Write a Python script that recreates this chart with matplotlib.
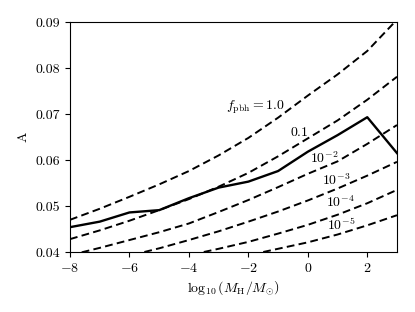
import matplotlib
matplotlib.use("Agg")
import matplotlib.pyplot as plt

plt.rcParams['font.family'] = 'serif'
plt.rcParams['font.serif'] = ['cmr10']
plt.rcParams['mathtext.fontset'] = 'cm'
plt.rcParams['axes.formatter.use_mathtext'] = True
plt.rcParams['font.size'] = 10

# log10(M_H / M_sun)
masa = [-8, -7, -6, -5, -4, -3, -2, -1, 0, 1, 2, 3]

# curva solida
A_solida = [0.0454, 0.0466, 0.0486, 0.0491, 0.0517, 0.0540,
            0.0553, 0.0576, 0.0618, 0.0654, 0.0693, 0.0615]

# curvas discontinuas para cada f_pbh
A_f1 = [0.0470, 0.0494, 0.0520, 0.0547, 0.0576, 0.0610,
        0.0648, 0.0692, 0.0740, 0.0786, 0.0837, 0.0905]
A_f01 = [0.0428, 0.0447, 0.0468, 0.0491, 0.0515, 0.0542,
         0.0572, 0.0608, 0.0647, 0.0686, 0.0731, 0.0781]
A_f2 = [0.0393, 0.0409, 0.0426, 0.0443, 0.0462, 0.0487,
        0.0513, 0.0541, 0.0570, 0.0597, 0.0635, 0.0676]
masa_f3 = [-5.5, -5, -4, -3, -2, -1, 0, 1, 2, 3]
A_f3 = [0.0400, 0.0408, 0.0426, 0.0445, 0.0466, 0.0488,
        0.0512, 0.0538, 0.0566, 0.0596]
masa_f4 = [-3.5, -3, -2, -1, 0, 1, 2, 3]
A_f4 = [0.0400, 0.0407, 0.0422, 0.0440, 0.0459, 0.0481, 0.0506, 0.0535]
masa_f5 = [-1.5, -1, 0, 1, 2, 3]
A_f5 = [0.0400, 0.0407, 0.0421, 0.0438, 0.0458, 0.0480]

etiquetas = [r'$f_{\rm pbh}=1.0$', r'$0.1$', r'$10^{-2}$',
             r'$10^{-3}$', r'$10^{-4}$', r'$10^{-5}$']
pos_etiquetas = [(-1.75, 0.0714), (-0.27, 0.0659), (0.55, 0.0604),
                 (0.97, 0.0557), (1.11, 0.0509), (1.14, 0.0459)]

fig = plt.figure(figsize=(4.15, 3.12), dpi=100)
ax = fig.add_axes([0.1687, 0.1923, 0.7879, 0.7372])

curvas = [(masa, A_f1), (masa, A_f01), (masa, A_f2),
          (masa_f3, A_f3), (masa_f4, A_f4), (masa_f5, A_f5)]
for xs, ys in curvas:
    ax.plot(xs, ys, color='black', linestyle='--', linewidth=1.4, dashes=(4, 2.2))

ax.plot(masa, A_solida, color='black', linewidth=1.7)

for texto, (tx, ty) in zip(etiquetas, pos_etiquetas):
    ax.text(tx, ty, texto, ha='center', va='center', fontsize=10)

ax.set_xlim(-8, 3)
ax.set_ylim(0.04, 0.09)
ax.set_xticks([-8, -6, -4, -2, 0, 2])
ax.set_yticks([0.04, 0.05, 0.06, 0.07, 0.08, 0.09])
ax.set_yticklabels(['0.04', '0.05', '0.06', '0.07', '0.08', '0.09'])
ax.set_xlabel(r'$\log_{10}\left(M_{\rm H}/M_{\odot}\right)$')
ax.set_ylabel(r'$\mathrm{A}$')

fig.savefig('out.png', dpi=100)
